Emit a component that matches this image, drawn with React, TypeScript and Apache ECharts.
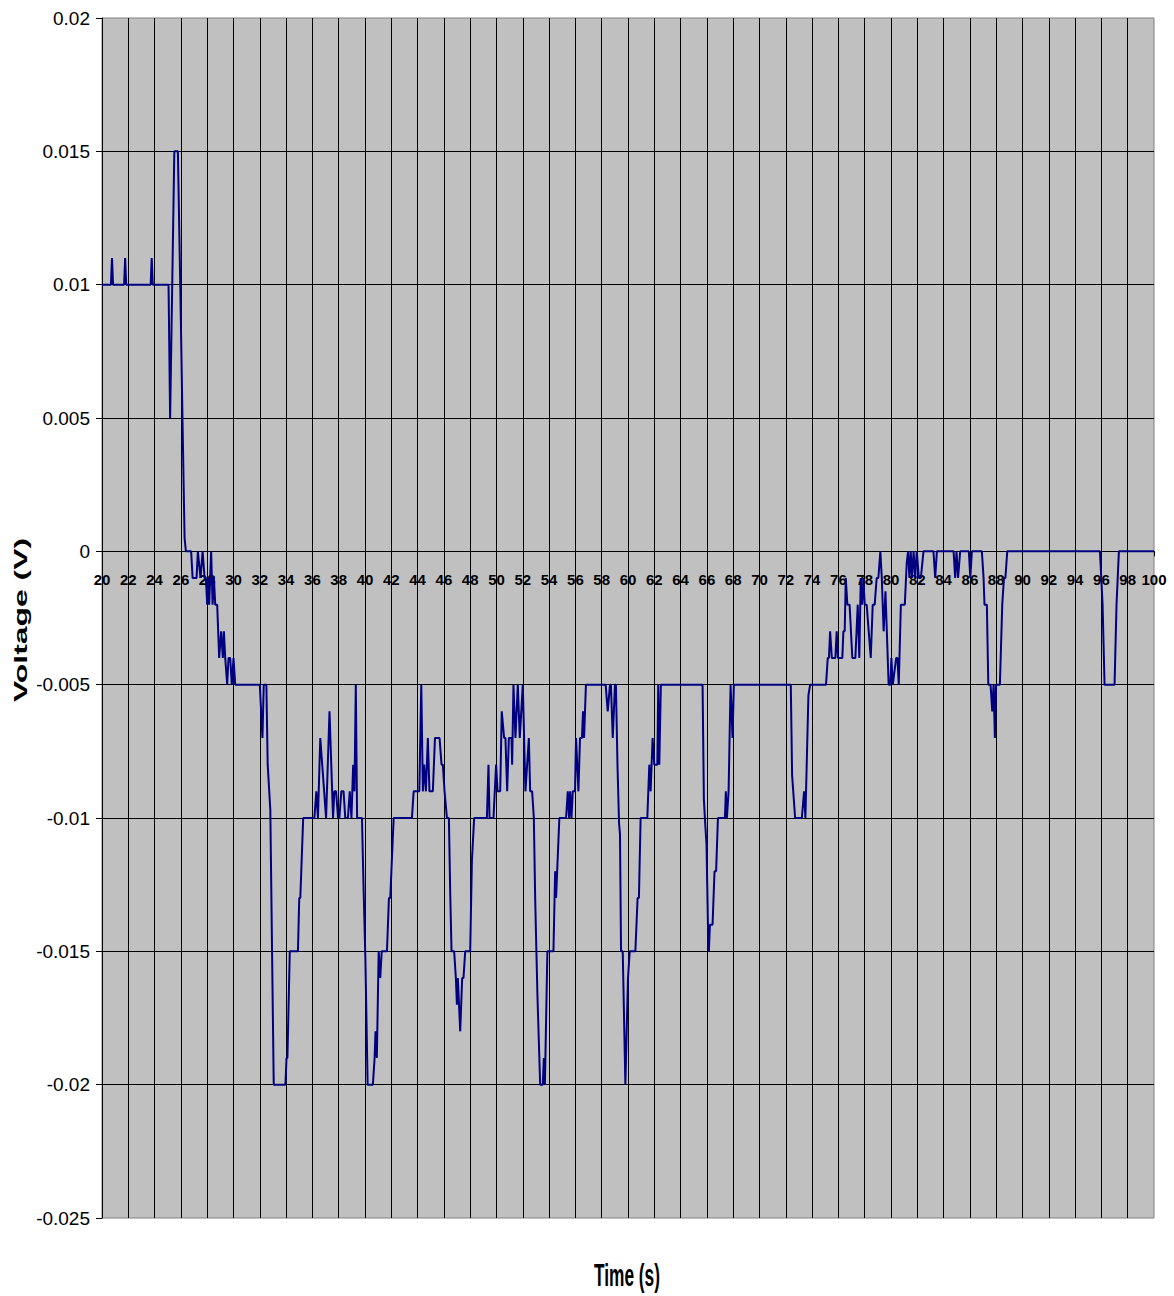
import React, { useEffect, useRef } from "react";
import * as echarts from "echarts";

// Time (s)
const times: number[] = [
  20, 20.68, 20.76, 20.84, 21.68, 21.76, 21.84, 23.7, 23.78, 23.86, 25.06, 25.18, 25.5, 25.77, 25.95, 26.13, 26.28, 26.38,
  26.78, 26.89, 27.19, 27.29, 27.49, 27.65, 27.8, 27.9, 28.0, 28.08, 28.15, 28.3, 28.41, 28.51, 28.61, 28.76, 28.91, 29.06,
  29.19, 29.27, 29.37, 29.52, 29.62, 29.75, 29.87, 30.0, 30.13,
  32.0, 32.2, 32.3, 32.5, 32.6, 32.8, 32.94, 33.06, 33.95, 34.03, 34.1, 34.28, 34.9, 35.0, 35.08, 35.3, 36.15, 36.3, 36.42,
  36.6, 37.04, 37.3, 37.57, 37.67, 37.8, 37.95, 38.05, 38.2, 38.37, 38.5, 38.7, 38.84, 38.97, 39.1, 39.2, 39.3, 39.4, 39.77,
  39.9, 40.03, 40.2, 40.6, 40.73, 40.8, 40.9, 41.04, 41.16, 41.27, 41.67, 41.82, 41.92, 42.18, 43.57, 43.7, 44.13, 44.28,
  44.4, 44.5, 44.63, 44.78, 44.9, 45.16, 45.32, 45.67, 45.82, 45.92, 46.05, 46.1, 46.23, 46.38, 46.48, 46.58, 46.78, 46.91,
  46.99, 47.06, 47.24, 47.39, 47.49, 47.62, 48.0, 48.13, 48.3, 49.27, 49.39, 49.47, 49.77, 49.97, 50.08, 50.28, 50.4, 50.58,
  50.68, 50.81, 50.94, 51.14, 51.19, 51.29, 51.44, 51.62, 51.77, 52.0, 52.2, 52.46, 52.56, 52.71, 52.84, 52.94, 53.11, 53.32,
  53.52, 53.6, 53.68, 53.87, 54.33, 54.46, 54.53, 54.78, 55.29, 55.42, 55.52, 55.6, 55.7, 55.8, 55.97, 56.05, 56.23, 56.35,
  56.5, 56.58, 56.66, 56.8,
  58.3, 58.46, 58.63, 58.7, 58.84, 59.01, 59.08, 59.2, 59.32, 59.39, 59.47, 59.6, 59.72, 59.8, 59.9, 60.0, 60.13, 60.56, 60.73,
  60.83, 60.96, 61.47, 61.62, 61.72, 61.87, 62.0, 62.23, 62.3, 62.38, 62.5, 65.67, 65.77, 65.87, 65.97, 66.08, 66.15, 66.23,
  66.43, 66.58, 66.7, 66.84, 67.37, 67.44, 67.52, 67.65, 67.8, 67.95, 68.05,
  72.38, 72.48, 72.71, 73.22, 73.39, 73.49, 73.72, 73.85, 75.06, 75.19, 75.28, 75.37, 75.5, 75.77, 75.87, 75.97, 76.3, 76.38,
  76.48, 76.56, 76.68, 76.85, 77.06, 77.29, 77.47, 77.59, 77.7, 77.8, 77.9, 78.0, 78.15, 78.46, 78.61, 78.76, 78.91, 79.04,
  79.19, 79.3, 79.44, 79.58, 79.82, 79.95, 80.03, 80.14, 80.39, 80.49, 80.59, 80.75, 81.05, 81.2, 81.3, 81.4, 81.5, 81.6,
  81.72, 81.84, 81.96, 82.12, 82.27, 82.47, 83.23, 83.36, 83.49, 84.76, 84.88, 84.98, 85.1, 85.26, 85.92, 86.03, 86.15,
  86.91, 87.04, 87.11, 87.29, 87.4, 87.57, 87.7, 87.8, 87.9, 87.98, 88.28, 88.46, 88.59, 88.7, 88.84, 95.89, 95.99, 96.09,
  96.24, 97.0, 97.15, 97.33, 100,
];

// Voltage (V)
const volts: number[] = [
  0.01, 0.01, 0.011, 0.01, 0.01, 0.011, 0.01, 0.01, 0.011, 0.01, 0.01, 0.005, 0.015, 0.015, 0.01, 0.0047, 0.0005, 0,
  0, -0.001, -0.001, 0, -0.001, 0, -0.001, -0.001, -0.002, -0.001, -0.002, 0, -0.002, -0.001, -0.002, -0.002, -0.004, -0.003,
  -0.004, -0.003, -0.004, -0.005, -0.004, -0.004, -0.005, -0.004, -0.005,
  -0.005, -0.007, -0.005, -0.005, -0.008, -0.0097, -0.0153, -0.02, -0.02, -0.019, -0.019, -0.015, -0.015, -0.013, -0.013, -0.01, -0.01, -0.009, -0.01,
  -0.007, -0.01, -0.006, -0.01, -0.009, -0.009, -0.01, -0.01, -0.009, -0.009, -0.01, -0.01, -0.009, -0.01, -0.008, -0.009, -0.005, -0.01, -0.01,
  -0.0128, -0.0153, -0.02, -0.02, -0.019, -0.018, -0.019, -0.015, -0.016, -0.015, -0.015, -0.013, -0.013, -0.01, -0.01, -0.009, -0.009, -0.005,
  -0.009, -0.008, -0.009, -0.007, -0.009, -0.009, -0.007, -0.007, -0.008, -0.008, -0.009, -0.009, -0.01, -0.01, -0.0128, -0.015, -0.015, -0.016,
  -0.017, -0.016, -0.018, -0.016, -0.016, -0.015, -0.015, -0.0116, -0.01, -0.01, -0.008, -0.01, -0.01, -0.008, -0.009, -0.009, -0.006, -0.007,
  -0.007, -0.009, -0.007, -0.007, -0.008, -0.005, -0.007, -0.005, -0.007, -0.005, -0.009, -0.007, -0.009, -0.009, -0.01, -0.013, -0.0166, -0.02,
  -0.02, -0.019, -0.02, -0.015, -0.015, -0.012, -0.013, -0.01, -0.01, -0.009, -0.01, -0.009, -0.01, -0.009, -0.009, -0.007, -0.009, -0.007,
  -0.007, -0.006, -0.007, -0.005,
  -0.005, -0.006, -0.005, -0.005, -0.007, -0.005, -0.005, -0.008, -0.0102, -0.0106, -0.015, -0.015, -0.018, -0.02, -0.018, -0.016, -0.015, -0.015, -0.013,
  -0.013, -0.01, -0.01, -0.008, -0.009, -0.007, -0.008, -0.008, -0.005, -0.008, -0.005, -0.005, -0.0093, -0.0102, -0.011, -0.014, -0.015, -0.014,
  -0.014, -0.012, -0.012, -0.01, -0.01, -0.009, -0.01, -0.009, -0.005, -0.007, -0.005,
  -0.005, -0.0084, -0.01, -0.01, -0.009, -0.01, -0.0054, -0.005, -0.005, -0.004, -0.004, -0.003, -0.004, -0.004, -0.003, -0.004, -0.004, -0.003,
  -0.003, -0.001, -0.002, -0.002, -0.004, -0.004, -0.002, -0.004, -0.001, -0.002, -0.001, -0.002, -0.002, -0.004, -0.002, -0.002, -0.001, -0.001,
  0, -0.001, -0.003, -0.0015, -0.005, -0.005, -0.004, -0.005, -0.004, -0.004, -0.005, -0.002, -0.002, -0.0004, 0, -0.001, 0, -0.001,
  0, -0.001, 0, -0.001, -0.001, 0, 0, -0.001, 0, 0, -0.001, 0, -0.001, 0, 0, -0.001, 0,
  0, -0.001, -0.002, -0.002, -0.005, -0.005, -0.006, -0.005, -0.007, -0.005, -0.005, -0.002, -0.001, -0.001, 0, 0, -0.001, -0.002,
  -0.005, -0.005, -0.002, 0, 0,
];

const xMin = 20;
const xMax = 100;
const xTickStep = 2;
const yMin = -0.025;
const yMax = 0.02;
const yTickStep = 0.005;

const SANS = '"Liberation Sans", Arial, sans-serif';

export default function App() {
  const ref = useRef<HTMLDivElement>(null);
  useEffect(() => {
    document.body.style.margin = "0";
    if (!ref.current) return;
    const chart = echarts.init(ref.current, undefined, { renderer: "svg" });
    const data = times.map((t, i) => [t, volts[i]]);
    const gridTop = 18;
    const gridHeight = 1200;
    // place the x axis on the zero line
    const zeroOffset = -((0 - yMin) / (yMax - yMin)) * gridHeight;
    chart.setOption({
      animation: false,
      backgroundColor: "#ffffff",
      grid: {
        left: 102,
        top: gridTop,
        right: 20,
        height: gridHeight,
        show: true,
        backgroundColor: "#C0C0C0",
        borderColor: "#808080",
        borderWidth: 1,
        outerBoundsMode: "none",
        containLabel: false,
      },
      xAxis: {
        type: "value",
        min: xMin,
        max: xMax,
        interval: xTickStep,
        offset: zeroOffset,
        axisLine: { show: true, onZero: false, lineStyle: { color: "#000", width: 1 } },
        axisTick: { show: true, length: 5, lineStyle: { color: "#000" } },
        axisLabel: {
          color: "#000",
          fontFamily: SANS,
          fontWeight: "bold",
          fontSize: 15,
          margin: 21,
          hideOverlap: false,
          showMinLabel: true,
          showMaxLabel: true,
        },
        splitLine: {
          show: true,
          showMinLine: false,
          showMaxLine: false,
          lineStyle: { color: "#000", width: 1 },
        },
      },
      yAxis: {
        type: "value",
        min: yMin,
        max: yMax,
        interval: yTickStep,
        axisLine: { show: true, onZero: false, lineStyle: { color: "#000", width: 1 } },
        axisTick: { show: true, length: 6, lineStyle: { color: "#000" } },
        axisLabel: {
          color: "#000",
          fontFamily: SANS,
          fontSize: 19,
          margin: 12,
          showMinLabel: true,
          showMaxLabel: true,
          formatter: (v: number) => String(parseFloat(v.toFixed(3))),
        },
        splitLine: {
          show: true,
          showMinLine: false,
          showMaxLine: false,
          lineStyle: { color: "#000", width: 1 },
        },
      },
      series: [
        {
          type: "line",
          data,
          showSymbol: false,
          symbol: "none",
          lineStyle: { color: "#000080", width: 2 },
          itemStyle: { color: "#000080" },
          z: 5,
        },
      ],
      graphic: [
        {
          type: "text",
          x: 627,
          y: 1275,
          scaleX: 0.54,
          style: {
            text: "Time (s)",
            fontFamily: SANS,
            fontWeight: "bold",
            fontSize: 32,
            fill: "#000",
            textAlign: "center",
            textVerticalAlign: "middle",
            align: "center",
            verticalAlign: "middle",
          },
        },
        {
          type: "text",
          x: 20,
          y: 620,
          rotation: Math.PI / 2,
          scaleX: 1.68,
          style: {
            text: "Voltage (V)",
            fontFamily: SANS,
            fontWeight: "bold",
            fontSize: 19,
            fill: "#000",
            textAlign: "center",
            textVerticalAlign: "middle",
            align: "center",
            verticalAlign: "middle",
          },
        },
      ],
    });
    return () => chart.dispose();
  }, []);
  return <div ref={ref} style={{ width: 1174, height: 1296 }} />;
}
